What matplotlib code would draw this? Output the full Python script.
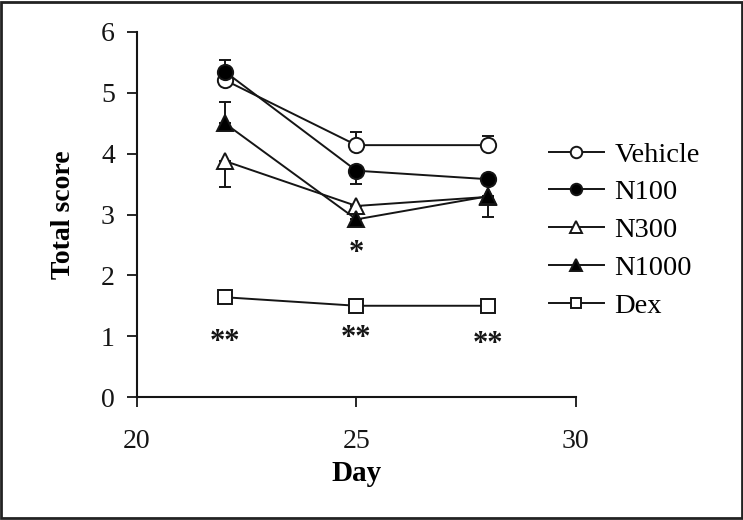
import matplotlib.pyplot as plt
from matplotlib.patches import Rectangle

plt.rcParams['font.family'] = ['Liberation Serif', 'DejaVu Serif']

days = [22, 25, 28]
labels = ['Vehicle', 'N100', 'N300', 'N1000', 'Dex']
vehicle = [5.21, 4.14, 4.14]
n100 = [5.35, 3.72, 3.58]
n300 = [3.88, 3.14, 3.29]
n1000 = [4.50, 2.92, 3.30]
dex = [1.64, 1.50, 1.50]
# one-sided error bars: (lower, upper)
vehicle_err = ([0, 0, 0], [0.0, 0.22, 0.15])
n100_err = ([0, 0.22, 0], [0.19, 0, 0])
n300_err = ([0.43, 0, 0], [0, 0, 0])
n1000_err = ([0, 0, 0.34], [0.35, 0, 0])
dex_err = ([0, 0, 0], [0.12, 0, 0])

# significance marks
star_x = [25, 22, 25, 28]
star_y = [2.36, 0.90, 0.97, 0.86]
star_txt = ['*', '**', '**', '**']

series = [vehicle, n100, n300, n1000, dex]
errs = [vehicle_err, n100_err, n300_err, n1000_err, dex_err]
markers = ['o', 'o', '^', '^', 's']
faces = ['white', 'black', 'white', 'black', 'white']
sizes = [11, 11, 11, 11, 10]

fig = plt.figure(figsize=(7.43, 5.2), dpi=100)
ax = fig.add_axes([0.1844, 0.2365, 0.775 - 0.1844, 0.9385 - 0.2365])

for i in range(len(series)):
    ax.errorbar(days, series[i], yerr=errs[i], color='#151515', lw=1.4,
                marker=markers[i], mfc=faces[i], mec='#151515', mew=1.4,
                ms=sizes[i], capsize=4, capthick=1.4, elinewidth=1.4,
                label=labels[i], zorder=3)

for x, y, t in zip(star_x, star_y, star_txt):
    ax.text(x, y, t, ha='center', va='center', fontsize=22, fontweight='bold',
            color='#151515')

ax.set_xlim(20, 30)
ax.set_ylim(0, 6)
ax.set_xticks([20, 25, 30])
ax.set_yticks(range(7))
ax.spines['top'].set_visible(False)
ax.spines['right'].set_visible(False)
for s in ['left', 'bottom']:
    ax.spines[s].set_linewidth(1.5)
    ax.spines[s].set_color('#151515')
ax.tick_params(direction='out', length=7, width=1.3, labelsize=20,
               colors='#151515')
ax.tick_params(axis='x', pad=16)
ax.tick_params(axis='y', pad=9)
ax.set_xlabel('Day', fontsize=21, fontweight='bold', labelpad=4)
ax.set_ylabel('Total score', fontsize=20, fontweight='bold', labelpad=18)

handles, lbls = ax.get_legend_handles_labels()
handles = [h[0] for h in handles]
fig.legend(handles, lbls, loc='center left', bbox_to_anchor=(0.704, 0.557),
           frameon=False, fontsize=20.5, handlelength=1.95, labelspacing=0.42,
           handletextpad=0.36, markerscale=0.75)

fig.patches.append(Rectangle((0.002, 0.003), 0.996, 0.994,
                             transform=fig.transFigure, fill=False,
                             edgecolor='#222222', lw=2))

fig.savefig('out.png', dpi=100)
